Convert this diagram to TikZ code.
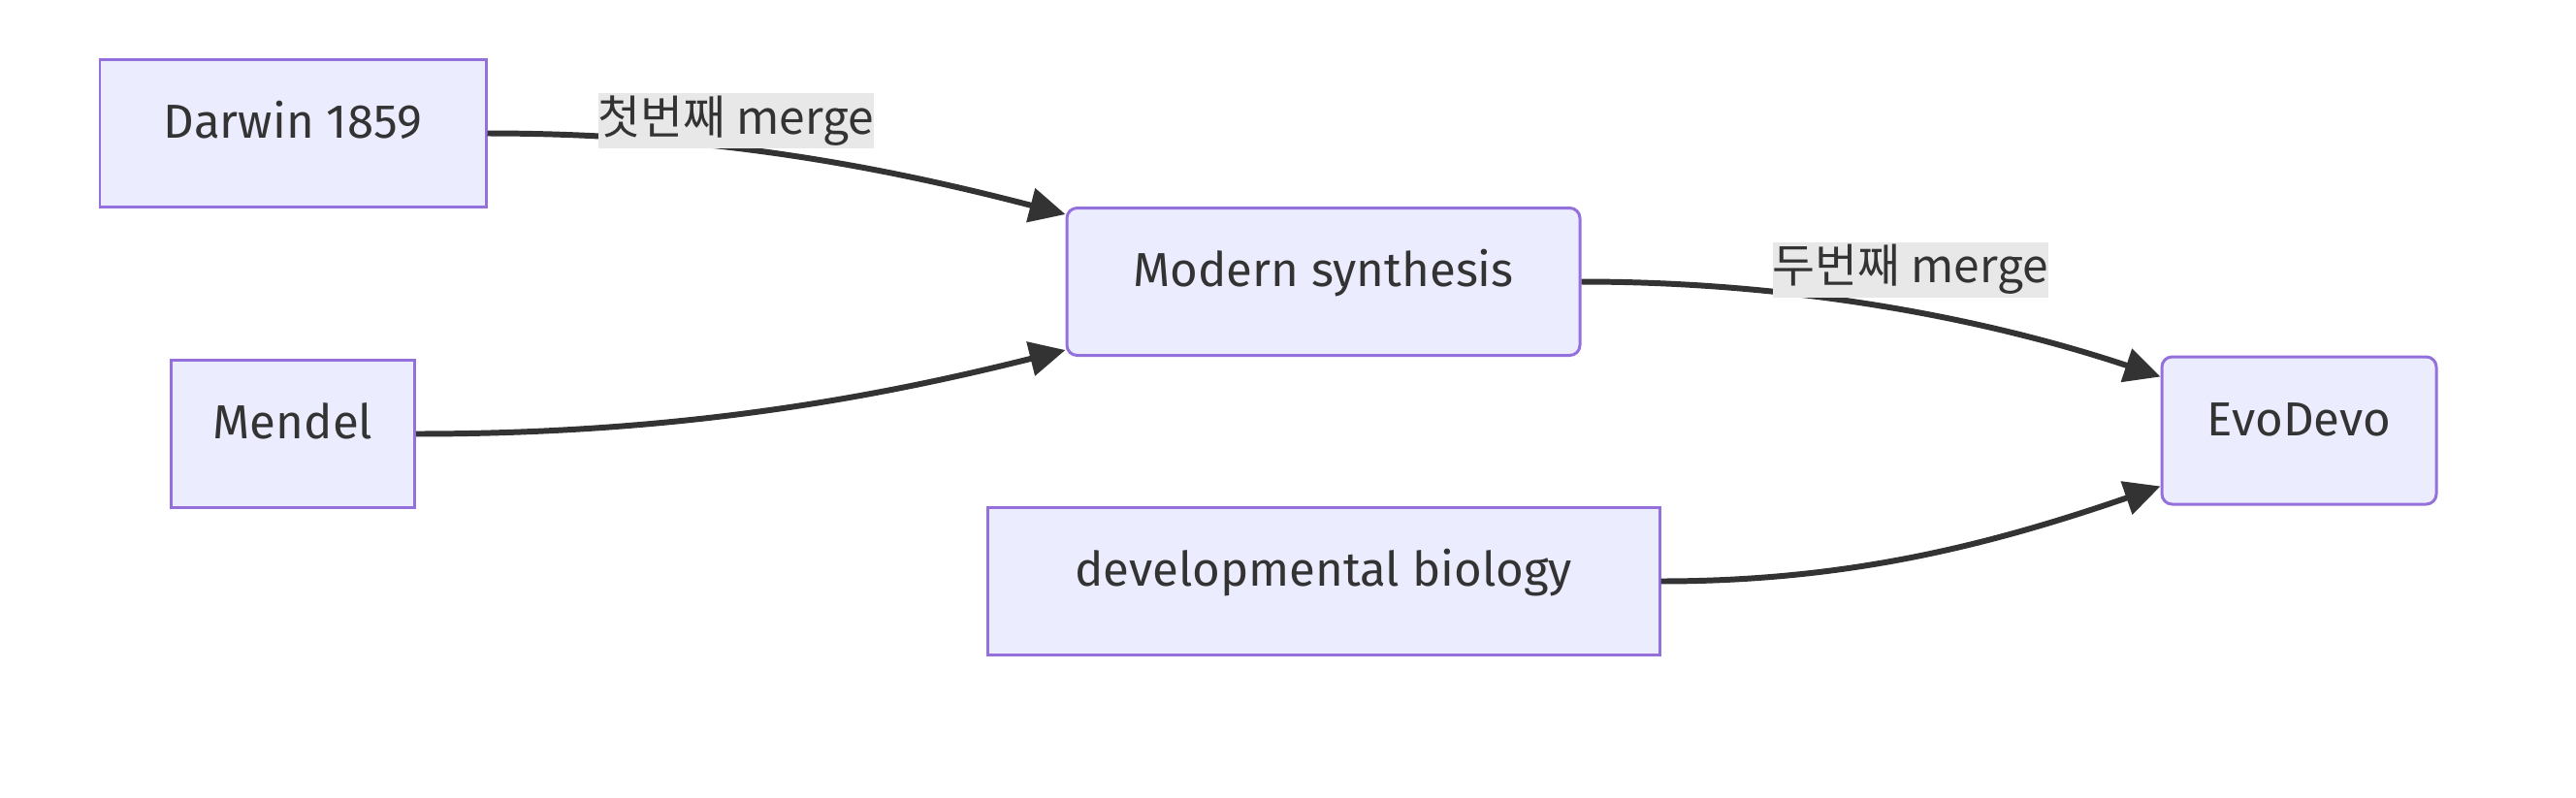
\documentclass[tikz,border=0pt]{standalone}
\usepackage{fontspec}
\setmainfont{Fira Sans}
\newfontfamily\cjk{Noto Sans CJK KR}
\usepackage{tikz}
\usetikzlibrary{positioning,arrows.meta}
\definecolor{nodeFill}{HTML}{ECECFF}
\definecolor{nodeLine}{HTML}{9370DB}
\definecolor{edgeDark}{HTML}{333333}
\definecolor{labelGray}{HTML}{E8E8E8}

\begin{document}
\begin{tikzpicture}[
                node distance=1.55cm,
                taxonbox/.style={fill=nodeFill, draw=nodeLine, line width=0.85pt,
                                 minimum height=1.52cm, inner sep=0pt, text=edgeDark,
                                 text height=0.36cm, text depth=0.26cm,
                                 font=\fontsize{14}{17}\selectfont},
                roundbox/.style={taxonbox, rounded corners=3pt},
                mergelabel/.style={fill=labelGray, inner sep=0pt, minimum height=0.57cm,
                                   text=edgeDark, font=\cjk\fontsize{13.6}{16}\selectfont},
                arrow/.style={-{Triangle[length=0.37cm, width=0.35cm]}, line width=1.7pt, color=edgeDark}
            ]
                \useasboundingbox (0,0) rectangle (26.56,-8.22);

                \node[taxonbox, minimum width=3.98cm] (darwin) at (3.02,-1.375) {Darwin 1859};
                \node[taxonbox, minimum width=2.51cm, below=of darwin] (mendel) {Mendel};

                \node[roundbox, minimum width=5.29cm] (modern) at (13.645,-2.905) {Modern synthesis};
                \node[taxonbox, minimum width=6.93cm, below=1.54cm of modern] (devbio) {developmental biology};

                \node[roundbox, minimum width=2.83cm] (evodevo) at (23.705,-4.44) {EvoDevo};

                % first merge
                \draw[arrow] (darwin.east) .. controls +(2.2,0) and +(-2,0.52) .. ([yshift=-0.08cm]modern.north west);
                \draw[arrow] (mendel.east) .. controls +(2.7,0) and +(-2,-0.5) .. ([yshift=0.07cm]modern.south west);

                % second merge
                \draw[arrow] (modern.east) .. controls +(2.2,0) and +(-1.8,0.6) .. ([yshift=-0.22cm]evodevo.north west);
                \draw[arrow] (devbio.east) .. controls +(1.9,0) and +(-1.8,-0.62) .. ([yshift=0.2cm]evodevo.south west);

                \node[mergelabel] (merge1) at (7.59,-1.245) {첫번째 merge};
                \node[mergelabel] (merge2) at (19.70,-2.78) {두번째 merge};

            \end{tikzpicture}
\end{document}
